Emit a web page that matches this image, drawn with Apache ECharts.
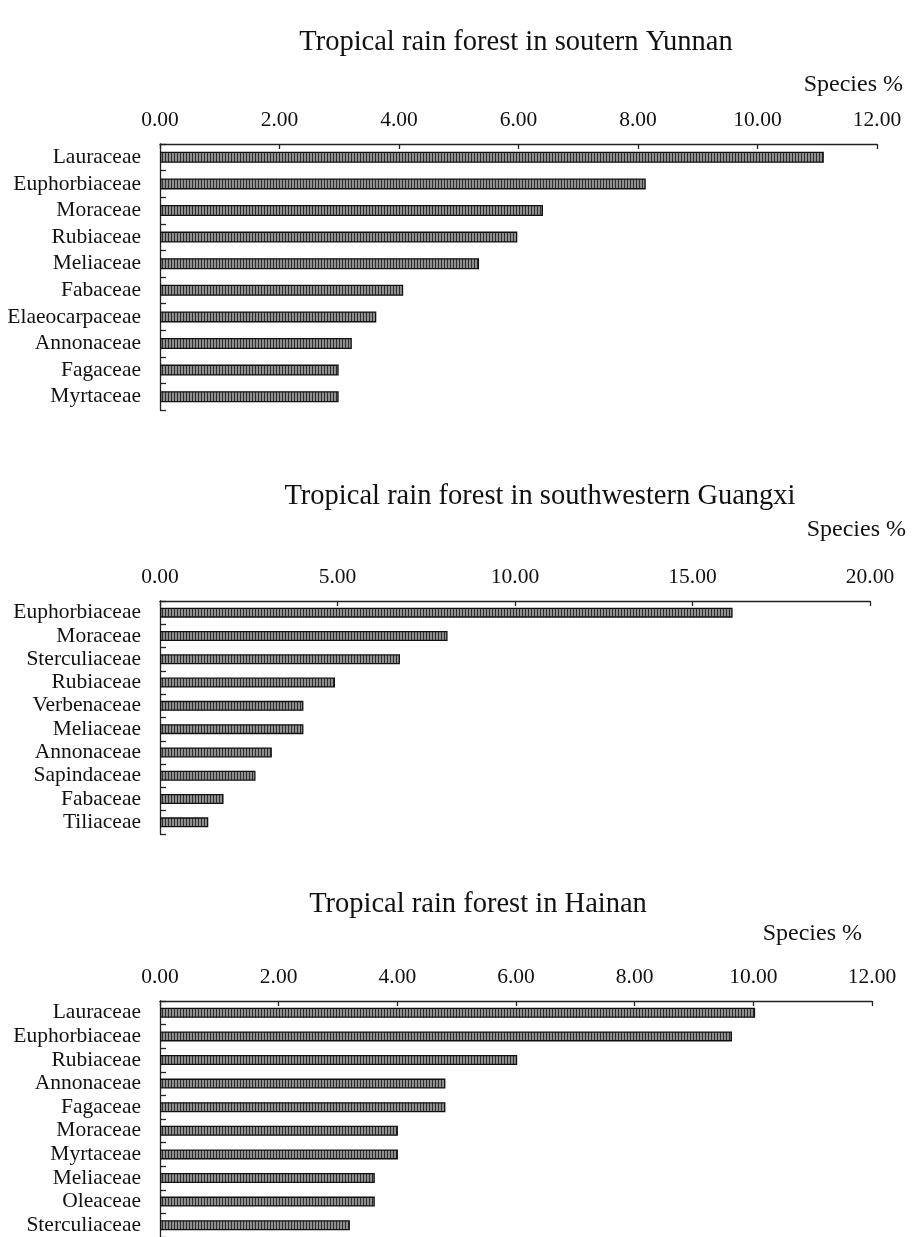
<!DOCTYPE html>
<html>
<head>
<meta charset="utf-8">
<script src="https://cdn.jsdelivr.net/npm/echarts@6/dist/echarts.min.js"></script>
<style>
html,body{margin:0;padding:0;background:#fff;}
#chart{width:913px;height:1237px;}
</style>
</head>
<body>
<div id="chart"></div>
<script>
// ---- data ----
const titles = ['Tropical rain forest in soutern Yunnan', 'Tropical rain forest in southwestern Guangxi', 'Tropical rain forest in Hainan'];
const unitLabel = 'Species %';

const yunnanFamilies = ['Lauraceae','Euphorbiaceae','Moraceae','Rubiaceae','Meliaceae','Fabaceae','Elaeocarpaceae','Annonaceae','Fagaceae','Myrtaceae'];
const yunnanValues = [11.11, 8.13, 6.41, 5.98, 5.34, 4.07, 3.62, 3.21, 2.99, 2.99];

const guangxiFamilies = ['Euphorbiaceae','Moraceae','Sterculiaceae','Rubiaceae','Verbenaceae','Meliaceae','Annonaceae','Sapindaceae','Fabaceae','Tiliaceae'];
const guangxiValues = [16.13, 8.10, 6.76, 4.93, 4.04, 4.04, 3.15, 2.69, 1.79, 1.36];

const hainanFamilies = ['Lauraceae','Euphorbiaceae','Rubiaceae','Annonaceae','Fagaceae','Moraceae','Myrtaceae','Meliaceae','Oleaceae','Sterculiaceae'];
const hainanValues = [10.03, 9.64, 6.02, 4.81, 4.81, 4.01, 4.01, 3.62, 3.62, 3.20];

const xMax = [12, 20, 12];
const xInterval = [2, 5, 2];

// ---- styling ----
const FONT = '"Liberation Serif", "Times New Roman", serif';
const pat = document.createElement('canvas');
pat.width = 3; pat.height = 4;
const pctx = pat.getContext('2d');
pctx.fillStyle = '#8e8e8e'; pctx.fillRect(0, 0, 3, 4);
pctx.fillStyle = '#2e2e2e'; pctx.fillRect(0, 0, 1, 4);

const grids = [
  {left: 160, top: 144, width: 717, height: 266},
  {left: 160, top: 601, width: 710, height: 233},
  {left: 160, top: 1001, width: 712, height: 237}
];
const cats = [yunnanFamilies, guangxiFamilies, hainanFamilies];
const vals = [yunnanValues, guangxiValues, hainanValues];
const barW = [11, 10, 10];

const xAxes = grids.map((g, i) => ({
  type: 'value', gridIndex: i, position: 'top',
  min: 0, max: xMax[i], interval: xInterval[i],
  axisLine: {show: true, lineStyle: {color: '#222', width: 1.3}},
  axisTick: {show: true, inside: true, length: 5, lineStyle: {color: '#222', width: 1.3}},
  splitLine: {show: false},
  axisLabel: {margin: 13, fontFamily: FONT, fontSize: 21.5, color: '#111', formatter: v => v.toFixed(2)}
}));
const yAxes = grids.map((g, i) => ({
  type: 'category', gridIndex: i, inverse: true, data: cats[i],
  axisLine: {show: true, lineStyle: {color: '#222', width: 1.3}},
  axisTick: {show: true, inside: true, length: 6, interval: 0, lineStyle: {color: '#222', width: 1.3}},
  axisLabel: {margin: 19, fontFamily: FONT, fontSize: 21.5, color: '#111', interval: 0}
}));
const series = grids.map((g, i) => ({
  type: 'bar', xAxisIndex: i, yAxisIndex: i, data: vals[i], barWidth: barW[i],
  itemStyle: {color: {image: pat, repeat: 'repeat'}, borderColor: '#111', borderWidth: 1.3},
  silent: true, animation: false
}));

const textPos = [
  {tx: 516, ty: 43, ux: 903, uy: 85},
  {tx: 540, ty: 497, ux: 906, uy: 530},
  {tx: 478, ty: 905, ux: 862, uy: 934}
];
const graphics = [];
textPos.forEach((p, i) => {
  graphics.push({type: 'text', x: p.tx, y: p.ty, style: {text: titles[i], fill: '#111', font: '28.5px ' + FONT, textAlign: 'center', textVerticalAlign: 'middle'}});
  graphics.push({type: 'text', x: p.ux, y: p.uy, style: {text: unitLabel, fill: '#111', font: '24px ' + FONT, textAlign: 'right', textVerticalAlign: 'middle'}});
});

const chart = echarts.init(document.getElementById('chart'), null, {renderer: 'canvas'});
chart.setOption({
  backgroundColor: '#fff',
  animation: false,
  grid: grids,
  xAxis: xAxes,
  yAxis: yAxes,
  series: series,
  graphic: graphics
});
</script>
</body>
</html>
